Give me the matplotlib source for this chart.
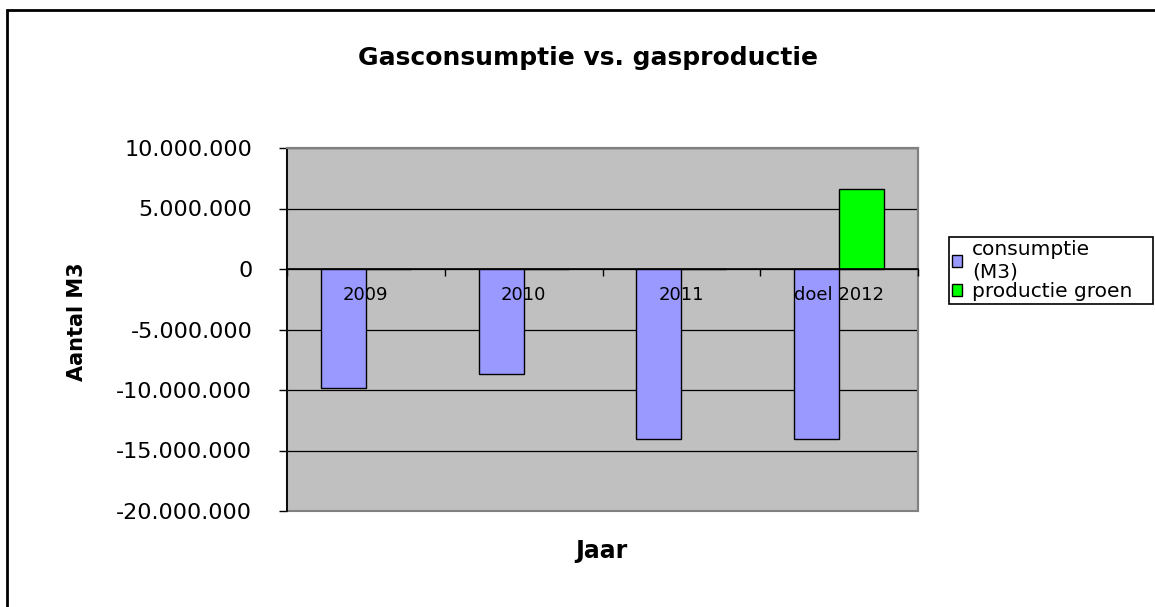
import matplotlib.pyplot as plt
from matplotlib.patches import Rectangle
from matplotlib.ticker import FuncFormatter
import numpy as np

jaren = ['2009', '2010', '2011', 'doel 2012']
consumptie = [-9800000, -8700000, -14050000, -14050000]
productie = [0, 0, 0, 6600000]

W, H = 1155, 607
fig = plt.figure(figsize=(W / 100, H / 100), dpi=100)
ax = fig.add_axes([287 / W, 1 - 511 / H, 631 / W, 363 / H])
ax.set_facecolor('#c0c0c0')

x = np.arange(len(jaren))
w = 1 / 3.5
b1 = ax.bar(x - w / 2, consumptie, w, color='#9999ff', edgecolor='black',
            lw=1, zorder=2, label='consumptie\n(M3)')
b2 = ax.bar(x + w / 2, productie, w, color='#00ff00', edgecolor='black',
            lw=1, zorder=2, label='productie groen')

# y axis
ax.set_ylim(-20e6, 10e6)
ax.set_yticks(np.arange(-20e6, 10e6 + 1, 5e6))
ax.yaxis.set_major_formatter(FuncFormatter(lambda v, p: f'{v:,.0f}'.replace(',', '.')))
ax.tick_params(axis='y', direction='out', length=6, width=1, pad=19, labelsize=16)
ax.grid(axis='y', color='black', lw=0.9)
ax.yaxis.set_zorder(0.5)

# x axis on zero line, labels under the axis
ax.set_xlim(-0.5, len(jaren) - 0.5)
ax.spines['bottom'].set_position(('data', 0))
ax.set_xticks(np.arange(-0.5, len(jaren)), [])
ax.set_xticks(x, jaren, minor=True)
ax.tick_params(axis='x', which='major', direction='out', length=5, width=1)
ax.tick_params(axis='x', which='minor', length=0, pad=12, labelsize=13)
ax.xaxis.set_zorder(4)

for s in ['top', 'right']:
    ax.spines[s].set_color('#808080')
    ax.spines[s].set_linewidth(1.5)
ax.spines['left'].set_linewidth(1.3)
ax.spines['bottom'].set_linewidth(1.2)
ax.add_patch(Rectangle((0, 0), 1, 1, transform=ax.transAxes, fill=False,
                       ec='#808080', lw=1.5, zorder=1.5, clip_on=False))

fig.text(588 / W, 1 - 58 / H, 'Gasconsumptie vs. gasproductie',
         ha='center', va='center', fontsize=18, weight='bold')
fig.text(601 / W, 1 - 551 / H, 'Jaar', ha='center', va='center',
         fontsize=17, weight='bold')
fig.text(77 / W, 1 - 322 / H, 'Aantal M3', ha='center', va='center',
         rotation=90, fontsize=15, weight='bold')

leg = fig.legend(handles=[b1, b2], loc='upper left',
                 bbox_to_anchor=(949 / W, 1 - 308 / H, 204 / W, 71 / H),
                 mode='expand', fancybox=False,
                 edgecolor='black', framealpha=1, fontsize=14.5,
                 handlelength=0.5, handleheight=0.5, handletextpad=0.5,
                 borderpad=0.15, labelspacing=0.05, borderaxespad=0)
leg.get_frame().set_linewidth(1.2)

# chart border
fig.add_artist(Rectangle((7 / W, -0.5), 2, 0.5 + 1 - 10 / H,
                         transform=fig.transFigure, fill=False,
                         ec='black', lw=2))

fig.savefig('out.png', dpi=100)
